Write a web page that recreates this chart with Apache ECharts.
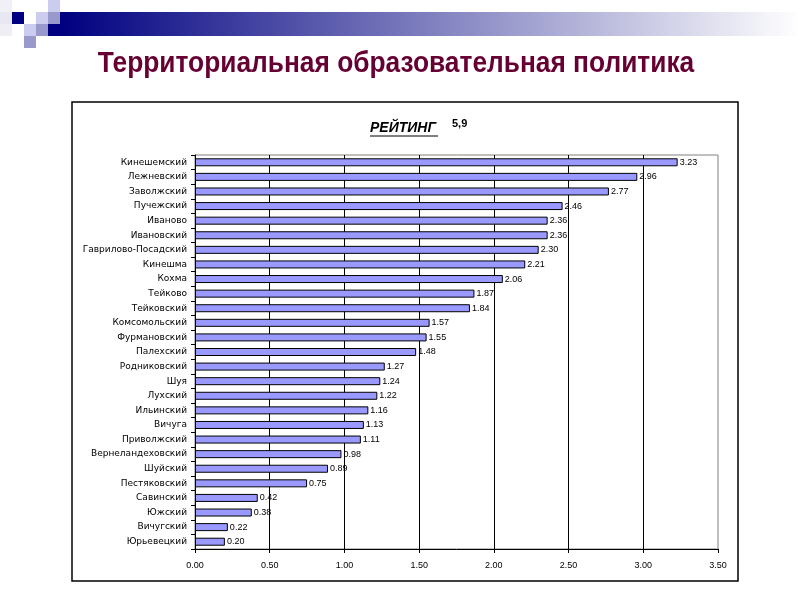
<!DOCTYPE html>
<html><head><meta charset="utf-8">
<script src="https://cdn.jsdelivr.net/npm/echarts@6/dist/echarts.min.js"></script>
<style>html,body{margin:0;padding:0;background:#fff}#c{width:800px;height:600px}</style>
</head><body><div id="c"></div>
<script>
const categories = ["Кинешемский","Лежневский","Заволжский","Пучежский","Иваново","Ивановский","Гаврилово-Посадский","Кинешма","Кохма","Тейково","Тейковский","Комсомольский","Фурмановский","Палехский","Родниковский","Шуя","Лухский","Ильинский","Вичуга","Приволжский","Вернеландеховский","Шуйский","Пестяковский","Савинский","Южский","Вичугский","Юрьевецкий"];
const ratings = [3.23,2.96,2.77,2.46,2.36,2.36,2.30,2.21,2.06,1.87,1.84,1.57,1.55,1.48,1.27,1.24,1.22,1.16,1.13,1.11,0.98,0.89,0.75,0.42,0.38,0.22,0.20];
const xTicks = {min:0, max:3.5, interval:0.5};
const pageTitle = "Территориальная образовательная политика";
const chartTitle = "РЕЙТИНГ";
const chartSubTitle = "5,9";

const chart = echarts.init(document.getElementById('c'), null, {renderer:'canvas'});
const sq = (x,y,c)=>({type:'rect',shape:{x:x,y:y,width:12,height:12},style:{fill:c},silent:true});
chart.setOption({
  animation:false,
  backgroundColor:'#fff',
  graphic:[
    {type:'rect',shape:{x:60,y:12,width:740,height:24},style:{fill:new echarts.graphic.LinearGradient(0,0,1,0,[{offset:0,color:'#000080'},{offset:1,color:'#ffffff'}])},silent:true},
    {type:'rect',shape:{x:48,y:24,width:12,height:12},style:{fill:'#000080'},silent:true},
    sq(0,0,'#f0f0f6'), sq(0,12,'#e8e8f2'), sq(0,24,'#eeeef4'),
    sq(12,12,'#000080'),
    sq(36,12,'#ccccee'), sq(48,0,'#ccccee'), sq(48,12,'#9999cc'),
    sq(24,24,'#ccccee'), sq(36,24,'#9999cc'), sq(24,36,'#9999cc'),
    {type:'text',x:396,y:64,scaleX:0.94,scaleY:1.04,style:{text:pageTitle,font:'bold 28px "Liberation Sans", Arial',fill:'#660033',textAlign:'center',textVerticalAlign:'middle'},silent:true},
    {type:'rect',shape:{x:72,y:102,width:666,height:479},style:{fill:'none',stroke:'#000',lineWidth:1.5},silent:true},
    {type:'text',x:370,y:121,style:{text:chartTitle,font:'italic bold 14px "Liberation Sans", Arial',fill:'#000'},silent:true},
    {type:'line',shape:{x1:370,y1:136,x2:438,y2:136},style:{stroke:'#000',lineWidth:1},silent:true},
    {type:'text',x:452,y:118,style:{text:chartSubTitle,font:'bold 11px "Liberation Sans", Arial',fill:'#000'},silent:true}
  ],
  grid:{left:195,right:82,top:155,bottom:51,show:true,borderColor:'#808080',borderWidth:1,containLabel:false},
  xAxis:{type:'value',min:xTicks.min,max:xTicks.max,interval:xTicks.interval,
    axisLine:{show:true,lineStyle:{color:'#000',width:1}},
    axisTick:{show:true,length:4,lineStyle:{color:'#000'}},
    axisLabel:{formatter:v=>v.toFixed(2),fontSize:9,fontFamily:'"Liberation Sans", Arial',color:'#000',margin:12},
    splitLine:{show:true,showMinLine:false,showMaxLine:false,lineStyle:{color:'#000',width:1}}},
  yAxis:{type:'category',data:categories,inverse:true,
    axisLine:{show:true,lineStyle:{color:'#000',width:1}},
    axisTick:{show:true,length:4,lineStyle:{color:'#000'}},
    axisLabel:{fontSize:9,fontFamily:'"DejaVu Sans", sans-serif',color:'#000',margin:8}},
  series:[{type:'bar',data:ratings,barWidth:8,
    itemStyle:{color:'#9999ff',borderColor:'#000',borderWidth:1},
    label:{show:true,position:'right',distance:2,formatter:p=>p.value.toFixed(2),fontSize:9,fontFamily:'"Liberation Sans", Arial',color:'#000'}}]
});
</script></body></html>
